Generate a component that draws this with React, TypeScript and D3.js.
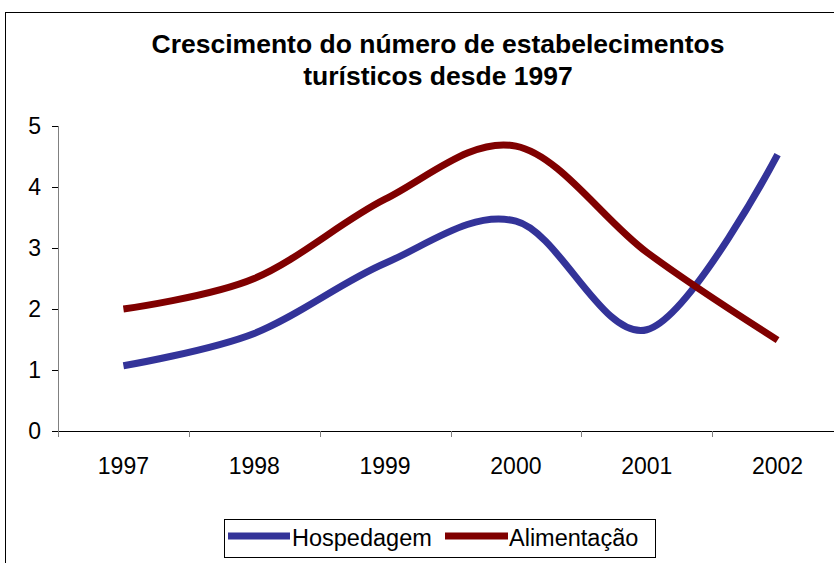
import React from 'react'
import * as d3 from 'd3'

const years = ['1997', '1998', '1999', '2000', '2001', '2002']
const hospedagem = [1.07, 1.6, 2.75, 3.44, 1.66, 4.53]
const alimentacao = [2.0, 2.5, 3.8, 4.67, 2.93, 1.49]
const yTicks = [0, 1, 2, 3, 4, 5]

const seriesList = [
  { name: 'Hospedagem', values: hospedagem, color: '#333399' },
  { name: 'Alimentação', values: alimentacao, color: '#800000' },
]

const width = 834
const height = 563
const font = 'Liberation Sans, Arial, sans-serif'

const App = () => {
  const left = 58
  const right = 843
  const top = 126
  const bottom = 431

  const x = d3.scaleBand<string>().domain(years).range([left, right])
  const y = d3.scaleLinear().domain([0, 5]).range([bottom, top])

  const line = d3.line<number>()
    .x((_, i) => (x(years[i]) as number) + x.bandwidth() / 2)
    .y(d => y(d))
    .curve(d3.curveCatmullRom.alpha(0))

  const boundaries = d3.range(years.length + 1).map(i => left + i * x.bandwidth())

  return (
    <svg width={width} height={height} style={{ position: 'absolute', left: 0, top: 0 }}>
      <rect x={0} y={0} width={width} height={height} fill="#fff" />
      <rect x={5.5} y={12.5} width={width + 10} height={height + 10} fill="none" stroke="#000" strokeWidth={1} />

      <text x={438} y={53} textAnchor="middle" fontFamily={font} fontWeight="bold" fontSize={26.5}>
        Crescimento do número de estabelecimentos
      </text>
      <text x={438} y={85} textAnchor="middle" fontFamily={font} fontWeight="bold" fontSize={26.5}>
        turísticos desde 1997
      </text>

      {/* y axis */}
      <line x1={left + 0.5} x2={left + 0.5} y1={top} y2={bottom} stroke="#808080" />
      {yTicks.map(t => (
        <g key={t}>
          <line x1={left - 6} x2={left} y1={Math.round(y(t)) + 0.5} y2={Math.round(y(t)) + 0.5} stroke="#000" />
          <text x={41} y={y(t) + 8} textAnchor="end" fontFamily={font} fontSize={23}>{t}</text>
        </g>
      ))}

      {/* x axis */}
      <line x1={left} x2={right} y1={bottom + 0.5} y2={bottom + 0.5} stroke="#000" />
      {boundaries.map((b, i) => (
        <line key={i} x1={Math.round(b) + 0.5} x2={Math.round(b) + 0.5} y1={bottom} y2={bottom + 6} stroke="#808080" />
      ))}
      {years.map(yr => (
        <text key={yr} x={(x(yr) as number) + x.bandwidth() / 2} y={474} textAnchor="middle" fontFamily={font} fontSize={23}>
          {yr}
        </text>
      ))}

      {seriesList.map(s => (
        <path key={s.name} d={line(s.values) || ''} fill="none" stroke={s.color} strokeWidth={7} />
      ))}

      {/* legend */}
      <rect x={224.5} y={519.5} width={431} height={38} fill="#fff" stroke="#000" />
      <line x1={228} x2={290} y1={536} y2={536} stroke={seriesList[0].color} strokeWidth={7} />
      <text x={292} y={546} fontFamily={font} fontSize={23.5}>{seriesList[0].name}</text>
      <line x1={445} x2={508} y1={536} y2={536} stroke={seriesList[1].color} strokeWidth={7} />
      <text x={509} y={546} fontFamily={font} fontSize={23.5}>{seriesList[1].name}</text>
    </svg>
  )
}

export default App
